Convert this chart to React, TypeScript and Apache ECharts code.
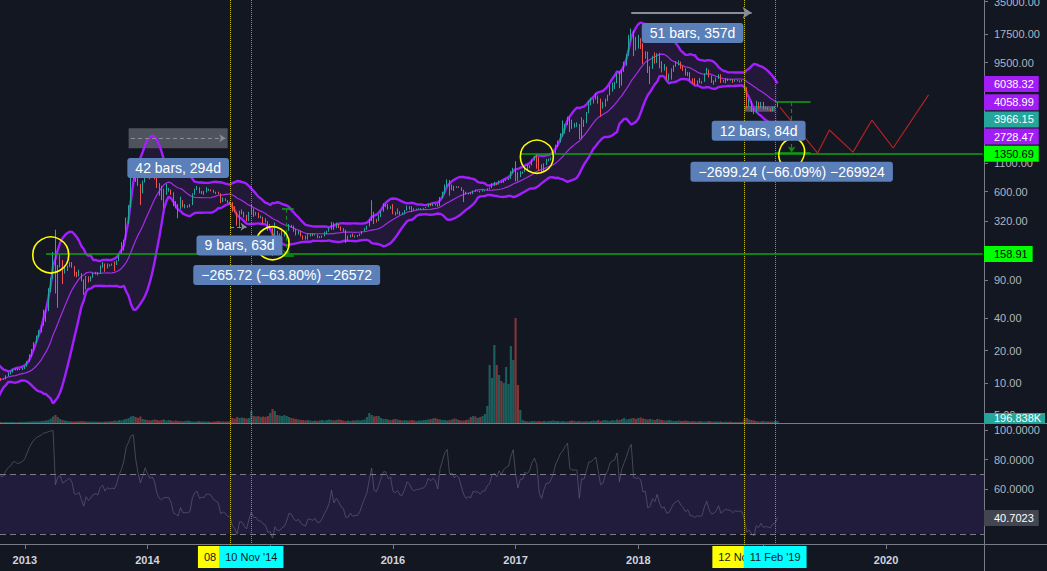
import React, { useEffect, useRef } from "react";
import * as echarts from "echarts";

// ---------------- data (weekly bars, Monday starts) ----------------
const firstWeekStart = "2012-06-04"; // first bar (warm-up bars before the visible range)
const firstOpen = 5.2;
const closes = [
  5.6, 6.5, 6.4, 6.7, 6.8, 7.6, 8.9, 8.8, 10.9, 11.4, 11.6, 10.6, 10.2, 11.0, 11.8, 12.3, 12.3, 12.2, 11.8, 11.7,
  11.0, 10.8, 10.9, 11.7, 12.3, 12.6, 13.4, 13.4, 13.3, 13.5,
  13.7, 14.2, 15.7, 17.8, 20.4, 23.7, 27.2, 30.2, 34.2, 46.9, 47, 70, 93, 162, 90, 119, 126, 111, 117, 123,
  129, 122, 100, 99, 104, 90, 76, 98, 90, 96, 104, 106, 104, 122, 127, 118, 126, 124, 126, 125,
  136, 159, 175, 212, 340, 445, 800, 950, 800, 690, 600, 730,
  940, 880, 830, 860, 810, 680, 620, 600, 630, 630, 630, 580, 460, 440, 420, 500, 440, 440, 440, 450,
  570, 630, 650, 590, 600, 600, 630, 630, 620, 595, 585, 575, 500, 510, 500, 480, 475, 410, 385, 330,
  390, 390, 355, 330, 375, 415, 375, 375, 350, 350, 330, 320, 265,
  268, 210, 255, 225, 225, 235, 240, 260, 290, 285, 260, 250, 255, 235, 225, 220, 240, 240, 235, 240,
  225, 225, 233, 245, 255, 270, 310, 275, 290, 280, 265, 260, 230, 230, 240, 230, 232, 232, 240, 255,
  270, 285, 330, 390, 330, 325, 355, 395, 440, 440, 420, 430,
  385, 380, 390, 375, 375, 400, 435, 430, 415, 410, 415, 415, 420, 420, 430, 455, 450, 460, 455, 440,
  530, 590, 690, 750, 660, 670, 650, 670, 660, 625, 590, 570, 580, 575, 610, 608, 608, 600, 615, 615,
  640, 650, 700, 710, 700, 740, 730, 765, 780, 790, 890, 1000,
  900, 830, 920, 920, 1010, 1000, 1050, 1180, 1270, 1230, 1020, 960, 1080, 1180, 1180, 1240, 1350, 1600, 1770, 2050,
  2190, 2560, 2950, 2530, 2500, 2500, 2500, 1900, 2750, 2740, 3250, 4050, 4080, 4350, 4600, 4200, 3700, 3780, 4380, 4750,
  5700, 6000, 6150, 7400, 5900, 7900, 9300, 11200, 15000, 18900, 14000, 13800,
  14000, 13700, 11500, 11700, 8100, 8400, 10300, 9600, 11500, 9500, 8200, 8500, 6900, 7000, 8000, 8900, 9300, 9600, 8700, 8200,
  7350, 7700, 6500, 6450, 6150, 6400, 6250, 6350, 7400, 8200, 7000, 6300, 6400, 6700, 7300, 6250, 6500, 6700, 6600, 6600,
  6300, 6500, 6400, 6450, 6350, 5600, 4000, 4150, 3600, 3250, 3950, 3700, 4000,
  3500, 3550, 3500, 3400, 3620, 3670, 3966.15,
];
const highs = [
  5.8, 6.7, 6.7, 6.9, 7.0, 7.8, 9.2, 9.2, 11.0, 11.8, 15.4, 11.4, 11.0, 11.2, 11.9, 12.6, 12.5, 12.9, 12.3, 11.9,
  11.8, 11.1, 11.0, 11.8, 12.5, 12.8, 13.6, 13.7, 13.6, 13.6,
  13.9, 14.4, 16.0, 18.5, 20.7, 24.0, 27.6, 31.0, 34.5, 48.0, 48.5, 76, 95, 165, 266, 125, 155, 139, 121, 124,
  133, 133, 122, 108, 113, 105, 92, 99, 98, 98, 106, 108, 107, 124, 133, 129, 129, 127, 129, 135,
  138, 160, 204, 215, 345, 450, 900, 1120, 1163, 1000, 710, 760,
  1000, 1000, 880, 880, 870, 830, 720, 680, 640, 710, 650, 630, 590, 490, 460, 540, 500, 460, 450, 460,
  580, 640, 680, 660, 610, 610, 660, 640, 630, 625, 600, 600, 580, 530, 520, 500, 485, 480, 440, 390,
  400, 410, 390, 365, 390, 460, 420, 390, 385, 360, 350, 340, 320,
  300, 275, 310, 260, 245, 260, 250, 265, 300, 295, 290, 270, 260, 260, 235, 235, 245, 245, 245, 242,
  240, 232, 235, 255, 260, 275, 315, 310, 310, 300, 285, 275, 265, 235, 240, 245, 235, 238, 245, 258,
  275, 290, 335, 500, 390, 335, 365, 400, 470, 460, 460, 440,
  460, 390, 420, 395, 385, 405, 445, 440, 440, 420, 418, 420, 422, 425, 432, 460, 465, 465, 460, 460,
  535, 600, 700, 780, 770, 700, 680, 675, 675, 660, 625, 600, 585, 585, 615, 630, 612, 610, 620, 620,
  645, 655, 720, 740, 720, 760, 745, 770, 785, 800, 930, 1000,
  1150, 910, 930, 925, 1030, 1070, 1055, 1200, 1290, 1330, 1260, 1080, 1100, 1210, 1220, 1245, 1370, 1640, 1790, 2100,
  2750, 2570, 2990, 2980, 2800, 2600, 2650, 2550, 2950, 2800, 3300, 4200, 4480, 4400, 4980, 4700, 4400, 4100, 4400, 4780,
  5850, 6200, 6300, 7600, 7900, 8100, 9700, 11400, 17200, 19700, 18900, 16500,
  17200, 16000, 14400, 12100, 12000, 8800, 11000, 11800, 11600, 11700, 9800, 9200, 8700, 7500, 8400, 9000, 9800, 9950, 9700, 8850,
  8400, 7800, 7750, 6800, 6800, 6500, 6850, 6400, 7550, 8500, 8200, 7200, 6500, 6900, 7400, 7400, 6550, 6800, 6750, 6650,
  6700, 6550, 6550, 6500, 6550, 6350, 5600, 4400, 4200, 3600, 4200, 4100, 4100,
  4100, 3700, 3650, 3550, 3700, 3700, 4000,
];
const lows = [
  5.1, 5.5, 6.2, 6.3, 6.4, 6.8, 7.6, 8.3, 8.8, 10.7, 7.1, 9.6, 10.0, 10.1, 10.9, 11.7, 12.0, 11.9, 11.6, 11.2,
  10.3, 10.5, 10.7, 10.8, 11.6, 12.0, 12.5, 13.1, 13.1, 13.2,
  13.2, 13.5, 14.2, 15.7, 17.5, 20.2, 23.6, 26.8, 29.5, 34.1, 37.0, 46.5, 70, 93, 68, 50, 119, 83, 104, 110,
  120, 118, 98, 96, 98, 88, 66, 74, 86, 88, 95, 102, 100, 104, 118, 108, 116, 121, 123, 110,
  125, 136, 158, 170, 212, 300, 420, 780, 740, 680, 450, 580,
  730, 800, 780, 800, 780, 650, 550, 500, 420, 560, 600, 560, 440, 420, 340, 410, 430, 420, 425, 430,
  450, 560, 620, 580, 570, 560, 590, 610, 605, 585, 570, 570, 470, 480, 490, 470, 460, 390, 385, 290,
  275, 370, 345, 320, 320, 370, 350, 360, 340, 340, 300, 310, 260,
  265, 152, 200, 215, 215, 215, 230, 235, 260, 280, 255, 235, 240, 230, 215, 215, 215, 230, 232, 234,
  222, 222, 223, 230, 240, 255, 265, 265, 275, 275, 260, 255, 200, 210, 225, 228, 225, 228, 232, 240,
  255, 265, 285, 320, 300, 310, 320, 350, 390, 430, 410, 415,
  370, 360, 370, 365, 365, 370, 400, 410, 390, 400, 405, 410, 410, 415, 420, 430, 440, 440, 445, 435,
  440, 520, 570, 665, 550, 620, 610, 650, 650, 610, 480, 565, 565, 565, 570, 600, 600, 590, 600, 605,
  615, 630, 650, 680, 690, 700, 725, 725, 755, 770, 790, 890,
  750, 750, 820, 880, 910, 940, 990, 1050, 1170, 980, 940, 890, 930, 1060, 1150, 1170, 1240, 1350, 1560, 1720,
  1950, 2080, 2500, 2150, 2300, 2360, 2400, 1850, 1840, 2400, 2600, 3220, 3820, 3950, 4300, 3950, 2980, 3550, 3700, 4150,
  4700, 5100, 5400, 6100, 5500, 5800, 7800, 8900, 11000, 15000, 10900, 12300,
  12800, 12700, 9200, 10300, 7600, 6000, 8300, 9300, 9400, 8400, 7700, 8000, 6600, 6450, 6600, 7800, 8700, 8950, 8300, 7950,
  7200, 7100, 6500, 6100, 5900, 5800, 6100, 6050, 6300, 7350, 6900, 6150, 5900, 6250, 6700, 6150, 6200, 6100, 6400, 6450,
  6150, 6300, 6350, 6200, 6300, 5300, 3550, 3650, 3300, 3150, 3250, 3550, 3600,
  3500, 3500, 3450, 3350, 3350, 3580, 3650,
];
// weekly volume, thousands
const volumesK = [
  60, 70, 60, 70, 80, 70, 90, 80, 100, 90, 150, 120, 90, 80, 90, 80, 80, 80, 70, 80,
  80, 90, 70, 100, 90, 110, 100, 80, 90, 100, 120, 110, 130, 150, 140, 160, 180, 150, 200, 220, 250,
  300, 450, 650, 800, 600, 400, 300, 250,
  200, 180, 150, 150, 170, 160, 200, 180, 150, 140, 130, 150, 140, 130, 120, 130, 140, 150, 160, 180,
  250, 200, 300, 250, 350, 400, 500, 650, 700, 600, 500, 650, 400, 350,
  300, 250, 300, 350, 300, 250, 300, 350, 250, 300, 250, 200, 250, 200, 200, 150, 200, 250, 200, 150,
  150, 150, 200, 150, 150, 150, 150, 100, 150, 150, 200, 150, 150, 150, 150, 200,
  500, 450, 600, 500, 550, 500, 450, 500, 1200, 700, 650, 700, 600, 650, 600, 700, 1000, 1400,
  1200, 800, 750, 700, 800, 700, 600, 500, 450, 400,
  350, 300, 300, 250, 300, 250, 200, 250, 200, 250, 300, 250, 300, 350, 300, 250, 300, 350, 300, 250,
  200, 250, 200, 250, 250, 300, 250, 300, 350,
  600, 1000, 800, 650, 700, 700, 500, 400,
  400, 350, 300, 350, 400, 350, 300, 250, 300, 250, 250, 300, 250, 200, 250, 250, 300, 300, 350, 400,
  450, 500, 400, 350, 300, 300, 250, 300, 350, 450, 400, 300, 250, 250, 300, 350,
  600, 700, 650, 500, 600, 700, 900,
  1700, 5800, 4500, 7800, 5800, 4800, 4200, 4000, 5600, 3900, 7700, 6300, 10500, 3800, 1300,
  300, 200, 150, 150, 200, 200, 150, 200, 150, 200, 150, 200, 200, 250, 200, 200, 150, 200, 150, 150,
  200, 250, 200, 150, 200, 150, 150, 200, 150,
  200, 250, 200, 300, 200, 250, 300, 250, 200, 300, 250, 350, 300, 400, 500, 350, 400, 450, 500, 400,
  500, 550, 450, 400, 350, 400, 350, 300, 400, 350,
  300, 250, 250, 300, 250, 200, 200, 250, 200, 200, 250, 200, 150, 200, 150, 150, 200, 150, 150, 150,
  200, 150, 150, 150, 150, 150, 100, 150, 100, 150,
  100, 100, 100, 100, 100, 400, 500, 350, 300, 250, 200, 150, 150, 200, 150, 150, 150, 150, 200, 196.838,
];
const futureWeeks = 87;
const firstVisibleIndex = 21; // 2012-10-29
const refWeek = "2012-10-22"; // annotation positions are given in weeks after this date

// axis ticks / labels
const priceAxisTicks = [5, 10, 20, 40, 90, 320, 600, 1100, 9500, 17500, 35000];
const rsiAxisTicks = [60, 80, 100];
const hiddenYearLabels = [2015, 2019];
const priceAxisRange = [4.25, 36270];
const rsiAxisRange = [22.5, 104];
const volumeAxisMax = 42300;

// value tags on the right scale
const priceTags = [
  { value: 6038.32, text: "6038.32", bg: "#a21cf5", fg: "#ffffff" },
  { value: 4058.99, text: "4058.99", bg: "#a21cf5", fg: "#ffffff" },
  { value: 3966.15, text: "3966.15", bg: "#26a69a", fg: "#ffffff" },
  { value: 2728.47, text: "2728.47", bg: "#a21cf5", fg: "#ffffff" },
  { value: 1350.69, text: "1350.69", bg: "#00ff00", fg: "#000000" },
  { value: 158.91, text: "158.91", bg: "#00ff00", fg: "#000000" },
];
const rsiTag = { value: 40.7023, text: "40.7023" };
const volumeTag = { value: 196.838, text: "196.838K" };

// drawings
const levelLines = [
  { price: 158.91, fromW: 20 },
  { price: 1350.69, fromW: 221 },
];
const dateMarkers = [
  { date: "2014-09-08", text: "08 Sep '14", line: "#c9c21d", bg: "#ffff00" },
  { date: "2014-11-10", text: "10 Nov '14", line: "#1fb0cc", bg: "#00ffff" },
  { date: "2018-11-12", text: "12 Nov '18", line: "#c9c21d", bg: "#ffff00" },
  { date: "2019-02-11", text: "11 Feb '19", line: "#1fb0cc", bg: "#00ffff" },
];
const measureBoxes = [
  { w: 76, price: 995, text: "42 bars, 294d" },
  { w: 102, price: 190, text: "9 bars, 63d" },
  { w: 122, price: 101, text: "\u2212265.72 (\u221263.80%) \u221226572" },
  { w: 294, price: 17900, text: "51 bars, 357d" },
  { w: 322, price: 2213, text: "12 bars, 84d" },
  { w: 336, price: 920, text: "\u22122699.24 (\u221266.09%) \u2212269924" },
];
const highlightCircles = [
  { w: 22, price: 155, size: [36, 36], rotate: 0 },
  { w: 116, price: 199, size: [33, 33], rotate: 0 },
  { w: 228, price: 1268, size: [33, 33], rotate: 0 },
  { w: 336, price: 1365, size: [25, 30], rotate: -20 },
];
const measureLegs = [
  { fromW: 120, toW: 125, legW: 122, top: 416.5, bottom: 150.8 },
  { fromW: 329, toW: 344, legW: 336, top: 4084, bottom: 1385 },
];
const rangeShades = [
  { fromW: 55, toW: 97, low: 1517, high: 2328, color: "rgba(120,123,134,0.6)" },
  { fromW: 316, toW: 329, low: 3320, high: 3750, color: "rgba(150,153,165,0.5)" },
];
const greyArrows = [
  { fromW: 56, toW: 96, price: 1879, dashed: true, width: 1 },
  { fromW: 98, toW: 105, price: 283, dashed: true, width: 1 },
  { fromW: 268, toW: 319, price: 27600, dashed: false, width: 2 },
];
const projectionWeeks = [331, 347, 352, 362, 370, 379, 394];
const projectionPrices = [3673, 1372, 2244, 1400, 2780, 1528, 4755];

// ---------------- helpers ----------------
const WEEK_MS = 7 * 24 * 3600 * 1000;
const L = (p: number) => Math.log10(p);
const startMs = Date.parse(firstWeekStart);
const idxOfDate = (d: string) => Math.round((Date.parse(d) - startMs) / WEEK_MS);
const W0 = idxOfDate(refWeek);
const at = (w: number) => W0 + w;

function bollinger(vals: number[], len: number, mult: number) {
  const up: any[] = [], mid: any[] = [], lo: any[] = [];
  for (let i = 0; i < vals.length; i++) {
    if (i < len - 1) { up.push("-"); mid.push("-"); lo.push("-"); continue; }
    let s = 0;
    for (let k = i - len + 1; k <= i; k++) s += vals[k];
    const m = s / len;
    let v = 0;
    for (let k = i - len + 1; k <= i; k++) v += (vals[k] - m) * (vals[k] - m);
    const sd = Math.sqrt(v / len);
    up.push(m + mult * sd); mid.push(m); lo.push(m - mult * sd);
  }
  return { up, mid, lo };
}

function rsi(vals: number[], len: number) {
  const out: any[] = vals.map(() => "-");
  let g = 0, l = 0;
  for (let i = 1; i <= len; i++) {
    const d = vals[i] - vals[i - 1];
    if (d > 0) g += d; else l -= d;
  }
  g /= len; l /= len;
  out[len] = l === 0 ? 100 : 100 - 100 / (1 + g / l);
  for (let i = len + 1; i < vals.length; i++) {
    const d = vals[i] - vals[i - 1];
    g = (g * (len - 1) + Math.max(d, 0)) / len;
    l = (l * (len - 1) + Math.max(-d, 0)) / len;
    out[i] = l === 0 ? 100 : 100 - 100 / (1 + g / l);
  }
  return out;
}

// ---------------- layout ----------------
const W = 1047, H = 571;
const GRID_RIGHT = 63;
const PRICE_H = 423;
const RSI_TOP = 424, RSI_H = 121;
const BG = "#131722";
const UP = "#26a69a", DOWN = "#ef5350";
const FONT = "'Liberation Sans', Arial, sans-serif";
const HIDDEN_LINE = { color: "rgba(0,0,0,0)", width: 1, type: "solid" };

function buildOption() {
  const n = closes.length;
  const total = n + futureWeeks;
  const categories = Array.from({ length: total }, (_, i) =>
    new Date(startMs + i * WEEK_MS).toISOString().slice(0, 10)
  );
  const yearOf = (i: number) => parseInt(categories[i].slice(0, 4), 10);
  const isYearStart = (i: number) => i > 0 && i < total && yearOf(i) !== yearOf(i - 1);

  const opens = closes.map((c, i) => (i === 0 ? firstOpen : closes[i - 1]));
  const candleData = closes.map((c, i) => {
    const o = opens[i];
    const hi = Math.max(highs[i], o, c);
    const lo = Math.min(lows[i], o, c);
    return [L(o), L(c), L(lo), L(hi)];
  });
  const bb = bollinger(closes.map(L), 17, 2);
  const bbBand = bb.up.map((u: any, i: number) => (u === "-" ? "-" : u - bb.lo[i]));
  const rsiVals = rsi(closes, 14);
  const volData = closes.map((c, i) => ({
    value: volumesK[i] ?? 0,
    itemStyle: { color: c >= opens[i] ? "rgba(38,166,154,0.5)" : "rgba(239,83,80,0.5)" },
  }));

  const pMin = L(priceAxisRange[0]), pMax = L(priceAxisRange[1]);
  const toPx = (logV: number) => ((pMax - logV) / (pMax - pMin)) * PRICE_H;
  const fromPx = (y: number) => pMax - (y / PRICE_H) * (pMax - pMin);

  // stack the right-scale tags so they do not overlap (17px apart)
  const sortedTags = [...priceTags].sort((a, b) => b.value - a.value);
  let prevY = -Infinity;
  const stackedTags = sortedTags.map((t) => {
    let y = toPx(L(t.value));
    if (y < prevY + 17) y = prevY + 17;
    prevY = y;
    return { ...t, pos: fromPx(y) };
  });

  const tagLabel = (text: string, bg: string, fg: string) => ({
    show: true, position: "end", distance: 0, formatter: text, opacity: 1,
    backgroundColor: bg, color: fg, padding: [2, 5, 2, 10], fontSize: 11, lineHeight: 12, fontFamily: FONT,
  });

  const priceTagLines = stackedTags.map((t) => ({
    yAxis: t.pos, lineStyle: HIDDEN_LINE, label: tagLabel(t.text, t.bg, t.fg),
  }));

  const levelLinePairs = levelLines.map((lv) => [
    { coord: [at(lv.fromW), L(lv.price)], lineStyle: { color: "#0ea50e", width: 1.6, type: "solid" }, label: { show: false } },
    { coord: [total - 1, L(lv.price)] },
  ]);

  const legPairs: any[] = [];
  measureLegs.forEach((m) => {
    legPairs.push([
      { coord: [at(m.fromW), L(m.top)], lineStyle: { color: "#13a313", width: 1.5, type: "solid" }, label: { show: false } },
      { coord: [at(m.toW), L(m.top)] },
    ]);
    legPairs.push([
      { coord: [at(m.fromW), L(m.bottom)], lineStyle: { color: "#13a313", width: 1.5, type: "solid" }, label: { show: false } },
      { coord: [at(m.toW), L(m.bottom)] },
    ]);
    legPairs.push([
      { coord: [at(m.legW), L(m.top)], lineStyle: { color: "#138a13", width: 1.2, type: [4, 3] }, label: { show: false } },
      { coord: [at(m.legW), L(m.bottom)], symbol: "arrow", symbolSize: 6 },
    ]);
  });

  const arrowPairs = greyArrows.map((a) => [
    { coord: [at(a.fromW), L(a.price)], lineStyle: { color: "#8a8d97", width: a.width, type: a.dashed ? [4, 3] : "solid" }, label: { show: false } },
    { coord: [at(a.toW), L(a.price)], symbol: "arrow", symbolSize: a.dashed ? 6 : 9 },
  ]);

  const verticalPriceLines = dateMarkers.map((m) => ({
    xAxis: idxOfDate(m.date), lineStyle: { color: m.line, type: "dotted", width: 1 }, label: { show: false },
  }));

  const verticalRsiLines = dateMarkers.map((m) => ({
    xAxis: idxOfDate(m.date),
    lineStyle: { color: m.line, type: "dotted", width: 1 },
    label: {
      show: true, position: "start", distance: 1, formatter: m.text,
      backgroundColor: m.bg, color: "#131722", padding: [5, 6, 5, 6], fontSize: 11, lineHeight: 12, fontFamily: FONT,
    },
  }));

  const boxPoints = measureBoxes.map((b) => ({
    coord: [at(b.w), L(b.price)],
    symbol: "rect", symbolSize: 1, itemStyle: { color: "rgba(0,0,0,0)" },
    label: {
      show: true, position: "inside", formatter: b.text, color: "#ffffff",
      backgroundColor: "#5b7fb8", borderRadius: 3, padding: [2, 8, 2, 8],
      fontSize: 14, lineHeight: 16, fontFamily: FONT,
    },
  }));
  const circlePoints = highlightCircles.map((c) => ({
    coord: [at(c.w), L(c.price)],
    symbol: "circle", symbolSize: c.size, symbolRotate: c.rotate,
    itemStyle: { color: "rgba(0,0,0,0)", borderColor: "#ffff00", borderWidth: 1.6 },
    label: { show: false },
  }));

  const shadeAreas = rangeShades.map((s) => [
    { coord: [at(s.fromW), L(s.high)], itemStyle: { color: s.color } },
    { coord: [at(s.toW), L(s.low)] },
  ]);

  const volTagValue = Math.max(volumeTag.value, (volumeAxisMax * 5) / PRICE_H);

  const hiddenXAxis = (gridIndex: number) => ({
    type: "category", gridIndex, data: categories, min: firstVisibleIndex, max: total - 1,
    show: false, boundaryGap: true,
  });

  return {
    animation: false,
    backgroundColor: BG,
    textStyle: { fontFamily: FONT },
    grid: [
      { left: 0, right: GRID_RIGHT, top: 0, height: PRICE_H, containLabel: false, outerBoundsMode: "none" },
      { left: 0, right: GRID_RIGHT, top: 0, height: PRICE_H, containLabel: false, outerBoundsMode: "none" },
      { left: 0, right: GRID_RIGHT, top: RSI_TOP, height: RSI_H, containLabel: false, outerBoundsMode: "none" },
    ],
    xAxis: [
      hiddenXAxis(0),
      hiddenXAxis(1),
      {
        type: "category", gridIndex: 2, data: categories, min: firstVisibleIndex, max: total - 1, boundaryGap: true,
        axisLine: { show: false },
        axisTick: {
          show: true, length: 4, alignWithLabel: true, lineStyle: { color: "#787b86" },
          interval: (i: number) => isYearStart(i),
        },
        axisLabel: {
          show: true, color: "#d1d4dc", fontSize: 11, margin: 9, fontFamily: FONT, fontWeight: "bold",
          interval: (i: number) => isYearStart(i),
          formatter: (v: string) => {
            const y = parseInt(v.slice(0, 4), 10);
            return hiddenYearLabels.includes(y) ? "" : String(y);
          },
        },
        splitLine: { show: false },
      },
    ],
    yAxis: [
      {
        type: "value", gridIndex: 0, position: "right", min: pMin, max: pMax, scale: true,
        axisLine: { show: false },
        axisTick: { show: true, length: 4, lineStyle: { color: "#787b86" }, customValues: priceAxisTicks.map(L) },
        axisLabel: {
          show: true, color: "#b2b5be", fontSize: 11, margin: 10, fontFamily: FONT,
          customValues: priceAxisTicks.map(L),
          formatter: (v: number) => Math.pow(10, v).toFixed(2),
        },
        splitLine: { show: false },
      },
      { type: "value", gridIndex: 1, min: 0, max: volumeAxisMax, show: false, splitLine: { show: false } },
      {
        type: "value", gridIndex: 2, position: "right", min: rsiAxisRange[0], max: rsiAxisRange[1],
        axisLine: { show: false },
        axisTick: { show: true, length: 4, lineStyle: { color: "#787b86" }, customValues: rsiAxisTicks },
        axisLabel: {
          show: true, color: "#b2b5be", fontSize: 11, margin: 10, fontFamily: FONT,
          customValues: rsiAxisTicks,
          formatter: (v: number) => v.toFixed(4),
        },
        splitLine: { show: false },
      },
    ],
    graphic: [
      { type: "line", z: 1, shape: { x1: 0, y1: 423.5, x2: W, y2: 423.5 }, style: { stroke: "#787b86", lineWidth: 1 } },
      { type: "line", z: 1, shape: { x1: 0, y1: 544.5, x2: W, y2: 544.5 }, style: { stroke: "#787b86", lineWidth: 1 } },
      { type: "line", z: 1, shape: { x1: 984.5, y1: 0, x2: 984.5, y2: H }, style: { stroke: "#787b86", lineWidth: 1 } },
    ],
    series: [
      {
        name: "bbBase", type: "line", xAxisIndex: 0, yAxisIndex: 0, data: bb.lo, stack: "bb",
        symbol: "none", lineStyle: { opacity: 0 }, silent: true, z: 1,
      },
      {
        name: "bbFill", type: "line", xAxisIndex: 0, yAxisIndex: 0, data: bbBand, stack: "bb",
        symbol: "none", lineStyle: { opacity: 0 }, areaStyle: { color: "rgba(150,40,220,0.16)" }, silent: true, z: 1,
      },
      {
        name: "volume", type: "bar", xAxisIndex: 1, yAxisIndex: 1, data: volData, barCategoryGap: "8%", silent: true, z: 1,
      },
      {
        name: "bbUpper", type: "line", xAxisIndex: 0, yAxisIndex: 0, data: bb.up, symbol: "none",
        lineStyle: { color: "#a41fff", width: 2.4 }, silent: true, z: 2,
      },
      {
        name: "bbLower", type: "line", xAxisIndex: 0, yAxisIndex: 0, data: bb.lo, symbol: "none",
        lineStyle: { color: "#a41fff", width: 2.4 }, silent: true, z: 2,
      },
      {
        name: "bbBasis", type: "line", xAxisIndex: 0, yAxisIndex: 0, data: bb.mid, symbol: "none",
        lineStyle: { color: "#a52ee8", width: 1.2 }, silent: true, z: 2,
      },
      {
        name: "price", type: "candlestick", xAxisIndex: 0, yAxisIndex: 0, data: candleData, barWidth: "55%",
        itemStyle: { color: UP, color0: DOWN, borderColor: UP, borderColor0: DOWN, borderWidth: 1 },
        silent: true, z: 3,
      },
      {
        name: "drawings", type: "line", xAxisIndex: 0, yAxisIndex: 0,
        data: projectionWeeks.map((w, i) => [at(w), L(projectionPrices[i])]),
        symbol: "none", lineStyle: { color: "#b22222", width: 1.2 }, silent: true, z: 4,
        markArea: { silent: true, data: shadeAreas },
        markLine: {
          silent: true, symbol: ["none", "none"],
          data: [...verticalPriceLines, ...levelLinePairs, ...legPairs, ...arrowPairs],
        },
        markPoint: { silent: true, data: [...circlePoints, ...boxPoints] },
      },
      {
        name: "priceTags", type: "line", xAxisIndex: 0, yAxisIndex: 0, data: [], silent: true, z: 6,
        markLine: { silent: true, symbol: ["none", "none"], data: priceTagLines },
      },
      {
        name: "volumeTag", type: "line", xAxisIndex: 1, yAxisIndex: 1, data: [], silent: true, z: 6,
        markLine: {
          silent: true, symbol: ["none", "none"],
          data: [{
            yAxis: volTagValue, lineStyle: HIDDEN_LINE,
            label: { ...tagLabel(volumeTag.text, "#26a69a", "#ffffff"), padding: [0, 4, 0, 10], lineHeight: 10 },
          }],
        },
      },
      {
        name: "rsi", type: "line", xAxisIndex: 2, yAxisIndex: 2, data: rsiVals, symbol: "none",
        lineStyle: { color: "rgba(105,100,128,0.6)", width: 1 }, silent: true, z: 3,
        markArea: {
          silent: true, itemStyle: { color: "rgba(103,58,183,0.18)" },
          data: [[{ yAxis: 30 }, { yAxis: 70 }]],
        },
        markLine: {
          silent: true, symbol: ["none", "none"],
          data: [
            { yAxis: 70, lineStyle: { color: "#787b86", type: [6, 4], width: 1 }, label: { show: false } },
            { yAxis: 30, lineStyle: { color: "#787b86", type: [6, 4], width: 1 }, label: { show: false } },
            { yAxis: rsiTag.value, lineStyle: HIDDEN_LINE, label: tagLabel(rsiTag.text, "#434651", "#ffffff") },
            ...verticalRsiLines,
          ],
        },
      },
    ],
  };
}

export default function App() {
  const ref = useRef<HTMLDivElement>(null);
  useEffect(() => {
    const el = ref.current;
    if (!el) return;
    const chart = echarts.init(el, null, { renderer: "svg" });
    chart.setOption(buildOption() as any);
    return () => chart.dispose();
  }, []);
  return (
    <div
      ref={ref}
      style={{ position: "fixed", left: 0, top: 0, width: W, height: H, background: BG }}
    />
  );
}
